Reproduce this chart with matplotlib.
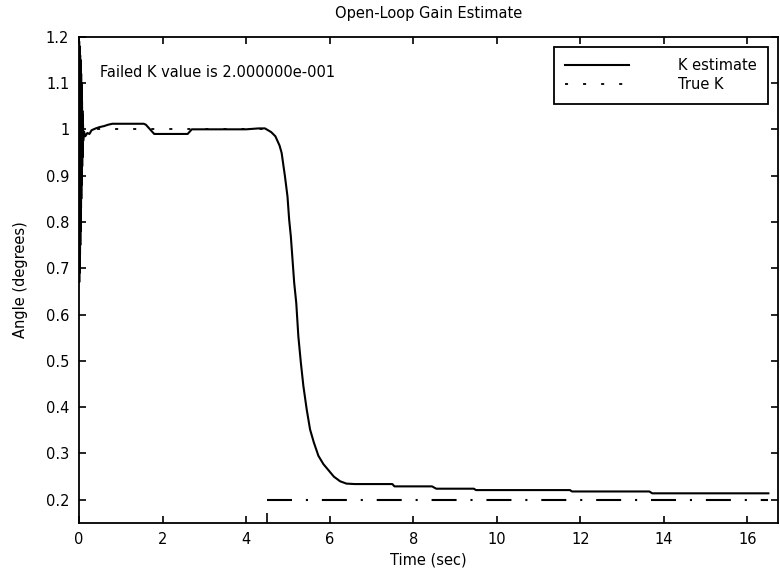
import matplotlib
matplotlib.use("Agg")
import matplotlib.pyplot as plt
from matplotlib.ticker import FormatStrFormatter, FixedLocator

# K estimate (time in sec, gain)
k_time = [0.0, 0.003, 0.006, 0.009, 0.012, 0.015, 0.018, 0.021, 0.024, 0.027,
          0.030, 0.033, 0.036, 0.039, 0.042, 0.045, 0.048, 0.051, 0.054, 0.057,
          0.060, 0.064, 0.068, 0.072, 0.076, 0.080, 0.084, 0.088, 0.092, 0.096,
          0.10, 0.12, 0.15, 0.20, 0.25,
          0.30, 0.40, 0.50, 0.60, 0.70, 0.80, 1.55, 1.60, 1.70, 1.80, 2.60,
          2.70, 4.00, 4.30, 4.45, 4.60, 4.70, 4.80, 4.85, 4.93, 4.99, 5.03,
          5.07, 5.11, 5.15, 5.20, 5.25, 5.31, 5.37, 5.45, 5.53, 5.62, 5.73,
          5.85, 5.98, 6.10, 6.25, 6.40, 6.60, 7.50, 7.55, 8.45, 8.55, 9.45,
          9.50, 11.75, 11.80, 13.65, 13.72, 16.50]
k_value = [1.00, 1.19, 0.67, 1.18, 0.69, 1.17, 0.71, 1.16, 0.73, 1.16,
           0.75, 1.15, 0.78, 1.14, 0.80, 1.13, 0.83, 1.12, 0.85, 1.10,
           0.88, 1.08, 0.90, 1.06, 0.92, 1.04, 0.94, 1.03, 0.96, 1.01,
           0.975, 0.995, 0.985, 0.992, 0.990,
           0.998, 1.002, 1.005, 1.007, 1.010, 1.012, 1.012, 1.010, 1.000, 0.990, 0.990,
           1.000, 1.000, 1.002, 1.002, 0.994, 0.985, 0.965, 0.949, 0.898, 0.855, 0.805,
           0.769, 0.719, 0.669, 0.625, 0.553, 0.496, 0.446, 0.395, 0.352, 0.324, 0.295,
           0.277, 0.263, 0.250, 0.240, 0.235, 0.234, 0.234, 0.229, 0.229, 0.224, 0.224,
           0.221, 0.221, 0.218, 0.218, 0.214, 0.214]

# true K: before and after the failure
true_time_a = [0.0, 4.5]
true_value_a = [1.0, 1.0]
true_time_b = [4.5, 16.5]
true_value_b = [0.2, 0.2]

x_ticks = [0, 2, 4, 6, 8, 10, 12, 14, 16]
y_ticks = [0.2, 0.3, 0.4, 0.5, 0.6, 0.7, 0.8, 0.9, 1.0, 1.1, 1.2]

plt.rcParams['font.family'] = ['DejaVu Sans']
plt.rcParams['font.size'] = 10
plt.rcParams['lines.scale_dashes'] = False

fig = plt.figure(figsize=(7.8, 5.75), dpi=100)
ax = fig.add_axes([79 / 780, 52.5 / 575, 699 / 780, 485.8 / 575])

ax.plot(true_time_a, true_value_a, color='k', lw=1.3, linestyle=(0, (2.2, 10.8)), label='True K')
ax.plot(true_time_b, true_value_b, color='k', lw=1.5, linestyle=(0, (18, 10, 1.5, 10)))
ax.plot(k_time, k_value, color='k', lw=1.5, label='K estimate')

ax.set_xlim(0, 16.73)
ax.set_ylim(0.151, 1.2)
ax.set_xticks(x_ticks)
ax.set_yticks(y_ticks)
ax.yaxis.set_major_formatter(FormatStrFormatter('%g'))
ax.xaxis.set_minor_locator(FixedLocator([4.5]))
ax.tick_params(which='major', direction='in', length=5, width=1.2,
               top=True, right=True, labelsize=10.5, pad=7)
ax.tick_params(which='minor', axis='x', direction='in', length=7, width=1.2, top=False)
for s in ax.spines.values():
    s.set_linewidth(1.3)

ax.text(0.5, 1.123, 'Failed K value is 2.000000e-001', fontsize=10.5, va='center', ha='left')

ax.set_xlabel('Time (sec)', fontsize=10.5)
ax.xaxis.set_label_coords(0.5, -0.077)
ax.set_ylabel('Angle (degrees)', fontsize=10.5)
ax.yaxis.set_label_coords(-0.084, 0.5)
ax.xaxis.label.set_va('center')
ax.yaxis.label.set_va('center')
ax.text(0.5, 1.048, 'Open-Loop Gain Estimate', transform=ax.transAxes,
        ha='center', va='center', fontsize=10.5)

handles, labels = ax.get_legend_handles_labels()
leg = ax.legend(handles[::-1], labels[::-1], loc='upper right',
                bbox_to_anchor=(0.9857, 0.9794), fancybox=False, framealpha=1,
                edgecolor='k', handlelength=4.4, handletextpad=3.3,
                borderpad=0.8, labelspacing=0.25, fontsize=10.5, borderaxespad=0)
leg.get_frame().set_linewidth(1.3)

fig.savefig('out.png', dpi=100)
